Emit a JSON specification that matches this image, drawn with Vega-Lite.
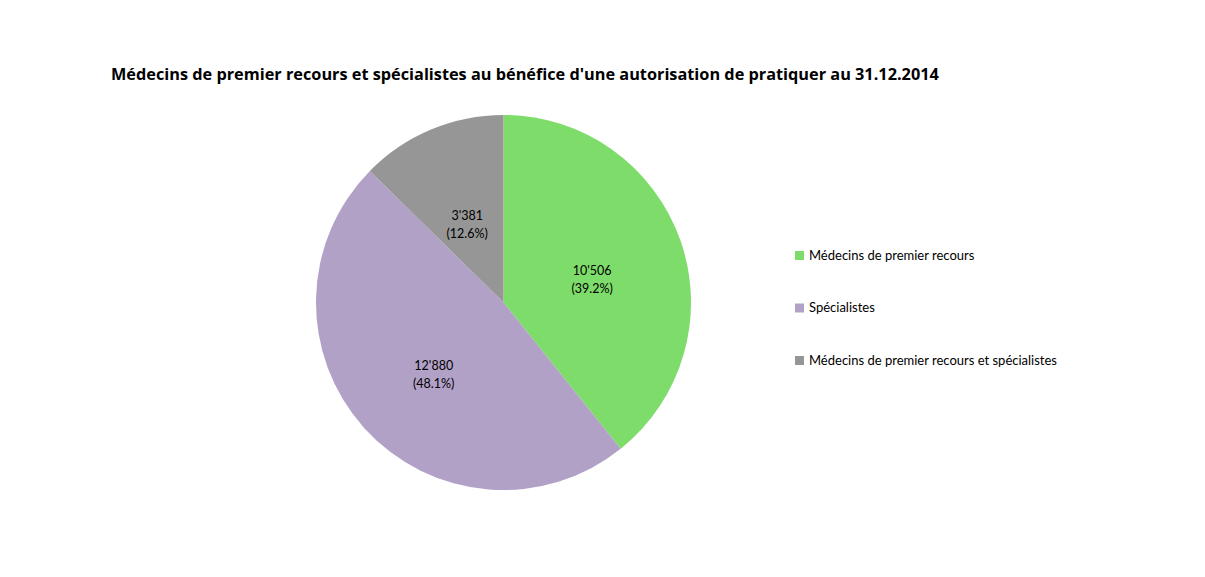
{
  "$schema": "https://vega.github.io/schema/vega-lite/v6.json",
  "width": 375,
  "height": 375,
  "autosize": {"type": "none"},
  "padding": {"left": 316, "top": 115, "right": 514, "bottom": 87},
  "background": "white",
  "title": {
    "text": "Médecins de premier recours et spécialistes au bénéfice d'une autorisation de pratiquer au 31.12.2014",
    "anchor": "start",
    "frame": "group",
    "dx": -205,
    "offset": 32,
    "font": "Open Sans",
    "fontSize": 16.3,
    "fontWeight": "bold",
    "color": "#000000"
  },
  "data": {
    "values": [
      {"categorie": "Médecins de premier recours", "nombre": 10506, "ordre": 1, "label": ["10'506", "(39.2%)"]},
      {"categorie": "Spécialistes", "nombre": 12880, "ordre": 2, "label": ["12'880", "(48.1%)"]},
      {"categorie": "Médecins de premier recours et spécialistes", "nombre": 3381, "ordre": 3, "label": ["3'381", "(12.6%)"]}
    ]
  },
  "encoding": {
    "theta": {"field": "nombre", "type": "quantitative", "stack": true},
    "order": {"field": "ordre", "type": "quantitative"}
  },
  "layer": [
    {
      "mark": {"type": "arc", "outerRadius": 187.5, "stroke": null},
      "encoding": {
        "color": {
          "field": "categorie",
          "type": "nominal",
          "scale": {
            "domain": ["Médecins de premier recours", "Spécialistes", "Médecins de premier recours et spécialistes"],
            "range": ["#7EDC6A", "#B2A1C7", "#969696"]
          },
          "legend": {
            "title": null,
            "orient": "none",
            "legendX": 477,
            "legendY": 134,
            "padding": 0,
            "symbolType": "square",
            "symbolSize": 81,
            "symbolStrokeWidth": 0,
            "labelFont": "Lato",
            "labelFontSize": 13,
            "labelColor": "#000000",
            "labelOffset": 3,
            "rowPadding": 38.5,
            "labelLimit": 400
          }
        }
      }
    },
    {
      "mark": {"type": "text", "radius": 94, "font": "Lato", "fontSize": 12.5, "color": "#000000", "lineHeight": 18, "align": "center", "baseline": "middle"},
      "encoding": {
        "text": {"field": "label"}
      }
    }
  ]
}
